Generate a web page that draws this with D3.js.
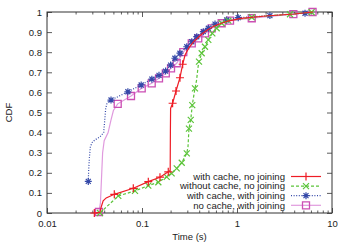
<!DOCTYPE html>
<html>
<head>
<meta charset="utf-8">
<script src="https://cdn.jsdelivr.net/npm/d3@7"></script>
<style>
  body { margin: 0; background: #fff; }
  text { font-family: "Liberation Sans", Arial, sans-serif; fill: #222; }
</style>
</head>
<body>
<div id="mainGraphic"></div>
<script>
let svgWidth = 350
let svgHeight = 245

// with cache, no joining
let cacheNoJoinLine = [[0.0315,0],[0.036,0.003],[0.0372,0.03],[0.039,0.06],[0.042,0.075],[0.0511,0.093],[0.081,0.123],[0.1165,0.156],
  [0.1546,0.178],[0.189,0.205],[0.198,0.21],[0.199,0.40],[0.200,0.52],[0.21,0.546],[0.228,0.607],[0.251,0.673],[0.268,0.74],
  [0.284,0.786],[0.31,0.82],[0.35,0.853],[0.42,0.888],[0.5,0.914],[0.6,0.934],[0.8,0.955],[1.1,0.968],[2.0,0.98],[4,0.99],[6.3,1.0]]
let cacheNoJoinMarks = [[0.0315,0],[0.0511,0.093],[0.081,0.123],[0.1165,0.156],[0.1546,0.178],[0.189,0.205],
  [0.21,0.546],[0.228,0.607],[0.251,0.673],[0.268,0.74]]

// without cache, no joining
let noCacheNoJoinLine = [[0.0361,0],[0.0563,0.085],[0.0844,0.11],[0.1165,0.136],[0.1486,0.153],[0.182,0.18],[0.205,0.197],
  [0.232,0.222],[0.262,0.25],[0.296,0.297],[0.305,0.33],[0.312,0.42],[0.326,0.463],[0.338,0.537],[0.361,0.62],[0.375,0.66],
  [0.39,0.73],[0.398,0.753],[0.425,0.795],[0.46,0.827],[0.499,0.861],[0.55,0.894],[0.611,0.919],[0.69,0.944],[0.81,0.957],
  [1.43,0.974],[3.61,0.989],[6.1,0.999]]
let noCacheNoJoinMarks = [[0.0361,0],[0.0563,0.085],[0.0844,0.11],[0.1165,0.136],[0.1486,0.153],[0.182,0.18],[0.205,0.197],
  [0.232,0.222],[0.262,0.25],[0.296,0.297],[0.312,0.42],[0.326,0.463],[0.338,0.537],[0.361,0.62],[0.398,0.753],[0.425,0.795],
  [0.46,0.827],[0.499,0.861],[0.55,0.894],[0.611,0.919],[0.69,0.944],[0.81,0.957],[1.43,0.974],[3.61,0.989],[6.1,0.999]]

// with cache, with joining
let cacheJoinLine = [[0.0272,0.157],[0.0275,0.22],[0.0279,0.27],[0.0286,0.33],[0.030,0.352],[0.032,0.364],[0.036,0.378],
  [0.0395,0.40],[0.0405,0.46],[0.0415,0.52],[0.043,0.55],[0.0472,0.562],[0.071,0.603],[0.098,0.637],[0.127,0.666],
  [0.151,0.685],[0.177,0.706],[0.20,0.736],[0.222,0.77],[0.251,0.795],[0.296,0.827],[0.334,0.852],[0.377,0.877],
  [0.442,0.902],[0.499,0.919],[0.587,0.94],[0.779,0.96],[1.03,0.972],[2.22,0.982],[5.2,0.994],[6.3,1.0]]
let cacheJoinMarks = [[0.0272,0.157],[0.0472,0.562],[0.071,0.603],[0.098,0.637],[0.127,0.666],[0.151,0.685],[0.177,0.706],
  [0.20,0.736],[0.222,0.77],[0.251,0.795],[0.296,0.827],[0.334,0.852],[0.377,0.877],[0.442,0.902],[0.499,0.919],
  [0.587,0.94],[0.779,0.96],[1.03,0.972],[2.22,0.982],[5.2,0.994]]

// no cache, with joining
let noCacheJoinLine = [[0.0352,0.005],[0.0365,0.05],[0.0377,0.2],[0.0385,0.30],[0.040,0.36],[0.044,0.40],[0.047,0.46],
  [0.050,0.51],[0.0555,0.543],[0.0766,0.582],[0.0993,0.62],[0.1265,0.645],[0.151,0.67],[0.178,0.695],[0.202,0.72],
  [0.232,0.745],[0.272,0.80],[0.334,0.844],[0.391,0.869],[0.46,0.894],[0.542,0.919],[0.69,0.944],[0.844,0.957],
  [1.43,0.969],[3.92,0.989],[6.24,1.0]]
let noCacheJoinMarks = [[0.0352,0.005],[0.0555,0.543],[0.0766,0.582],[0.0993,0.62],[0.1265,0.645],[0.151,0.67],[0.178,0.695],
  [0.202,0.72],[0.232,0.745],[0.272,0.80],[0.334,0.844],[0.391,0.869],[0.46,0.894],[0.542,0.919],[0.69,0.944],[0.844,0.957],
  [1.43,0.969],[3.92,0.989],[6.24,1.0]]

let seriesNames = ["with cache, no joining", "without cache, no joining", "with cache, with joining", "no cache, with joining"]
let seriesColors = ["#ee1c25", "#5cc43a", "#3448a8", "#cc4fb4"]
let lineColors = ["#ee1c25", "#5cc43a", "#3448a8", "#e09ade"]
let lineDashes = [null, "3,2", "1,1.6", null]
let markerTypes = ["plus", "cross", "star", "square"]

let xTicks = [0.01, 0.1, 1, 10]
let yTicks = [0, 0.1, 0.2, 0.3, 0.4, 0.5, 0.6, 0.7, 0.8, 0.9, 1]

renderChart();

function renderChart(){
  let graphic = d3.select("#mainGraphic")
    .append("svg")
      .attr("width", svgWidth)
      .attr("height", svgHeight)

  let left = 47, right = 332, top = 12, bottom = 213
  let x = d3.scaleLog().domain([0.01, 10]).range([left, right])
  let y = d3.scaleLinear().domain([0, 1]).range([bottom, top])
  let fmt = d3.format("~g")

  let minorTicks = x.ticks().filter(t => xTicks.indexOf(t) < 0 && Math.abs(Math.log10(t) % 1) > 1e-6)

  // axes, gnuplot style: ticks pointing inside, mirrored
  let axes = graphic.append("g").attr("class", "axes")
  axes.append("g").attr("transform", `translate(${left},0)`)
    .call(d3.axisLeft(y).tickValues(yTicks).tickFormat(fmt).tickSizeInner(-5).tickSizeOuter(0).tickPadding(5))
  axes.append("g").attr("transform", `translate(${right},0)`)
    .call(d3.axisRight(y).tickValues(yTicks).tickFormat("").tickSizeInner(-5).tickSizeOuter(0))
  axes.append("g").attr("transform", `translate(0,${bottom})`)
    .call(d3.axisBottom(x).tickValues(xTicks).tickFormat(fmt).tickSizeInner(-5).tickSizeOuter(0).tickPadding(7))
  axes.append("g").attr("transform", `translate(0,${bottom})`)
    .call(d3.axisBottom(x).tickValues(minorTicks).tickFormat("").tickSizeInner(-2.5).tickSizeOuter(0))
  axes.append("g").attr("transform", `translate(0,${top})`)
    .call(d3.axisTop(x).tickValues(xTicks).tickFormat("").tickSizeInner(-5).tickSizeOuter(0))
  axes.append("g").attr("transform", `translate(0,${top})`)
    .call(d3.axisTop(x).tickValues(minorTicks).tickFormat("").tickSizeInner(-2.5).tickSizeOuter(0))
  axes.selectAll(".domain").remove()
  axes.selectAll(".tick line").attr("stroke", "#333").attr("stroke-width", 0.8)
  axes.selectAll(".tick text").attr("font-size", "9.5px").attr("fill", "#222")
    .attr("font-family", "'Liberation Sans', Arial, sans-serif")

  graphic.append("rect")
    .attr("x", left).attr("y", top)
    .attr("width", right - left).attr("height", bottom - top)
    .attr("fill", "none").attr("stroke", "#333").attr("stroke-width", 1)

  graphic.append("text")
    .attr("x", (left + right) / 2).attr("y", 240)
    .attr("text-anchor", "middle").attr("font-size", "9.5px")
    .text("Time (s)")
  graphic.append("text")
    .attr("transform", `translate(12,${(top + bottom) / 2}) rotate(-90)`)
    .attr("text-anchor", "middle").attr("font-size", "9.5px")
    .text("CDF")

  let lines = [cacheNoJoinLine, noCacheNoJoinLine, cacheJoinLine, noCacheJoinLine]
  let marks = [cacheNoJoinMarks, noCacheNoJoinMarks, cacheJoinMarks, noCacheJoinMarks]
  let lineGen = d3.line().x(d => x(d[0])).y(d => y(d[1]))

  // draw in reverse so red sits on top
  for (let i = 3; i >= 0; i--) {
    let g = graphic.append("g").attr("class", "series")
    g.append("path")
      .datum(lines[i])
      .attr("d", lineGen)
      .attr("fill", "none")
      .attr("stroke", lineColors[i])
      .attr("stroke-width", 1.2)
      .attr("stroke-dasharray", lineDashes[i])
    g.selectAll("path.mark")
      .data(marks[i])
      .enter()
      .append("path")
        .attr("class", "mark")
        .attr("transform", d => `translate(${x(d[0])},${y(d[1])})`)
        .attr("d", markerPath(markerTypes[i]))
        .attr("fill", "none")
        .attr("stroke", seriesColors[i])
        .attr("stroke-width", markerTypes[i] == "square" ? 1.3 : 1.2)
  }

  // legend
  let legend = graphic.append("g").attr("class", "legend")
  seriesNames.forEach(function(name, i){
    let ly = 176.5 + i * 9.6
    legend.append("text")
      .attr("x", 285).attr("y", ly).attr("dy", "0.35em")
      .attr("text-anchor", "end").attr("font-size", "9.6px")
      .text(name)
    legend.append("line")
      .attr("x1", 291).attr("x2", 321).attr("y1", ly).attr("y2", ly)
      .attr("stroke", lineColors[i]).attr("stroke-width", 1.2)
      .attr("stroke-dasharray", lineDashes[i])
    legend.append("path")
      .attr("transform", `translate(306,${ly})`)
      .attr("d", markerPath(markerTypes[i]))
      .attr("fill", "none").attr("stroke", seriesColors[i])
      .attr("stroke-width", markerTypes[i] == "square" ? 1.3 : 1.2)
  })
}

function markerPath(type){
  if (type == "plus") return "M-4,0H4M0,-4V4"
  if (type == "cross") return "M-3,-3L3,3M-3,3L3,-3"
  if (type == "star") return "M-3.5,0H3.5M0,-3.5V3.5M-2.5,-2.5L2.5,2.5M-2.5,2.5L2.5,-2.5"
  return "M-3.5,-3.5H3.5V3.5H-3.5Z"
}
</script>
</body>
</html>
